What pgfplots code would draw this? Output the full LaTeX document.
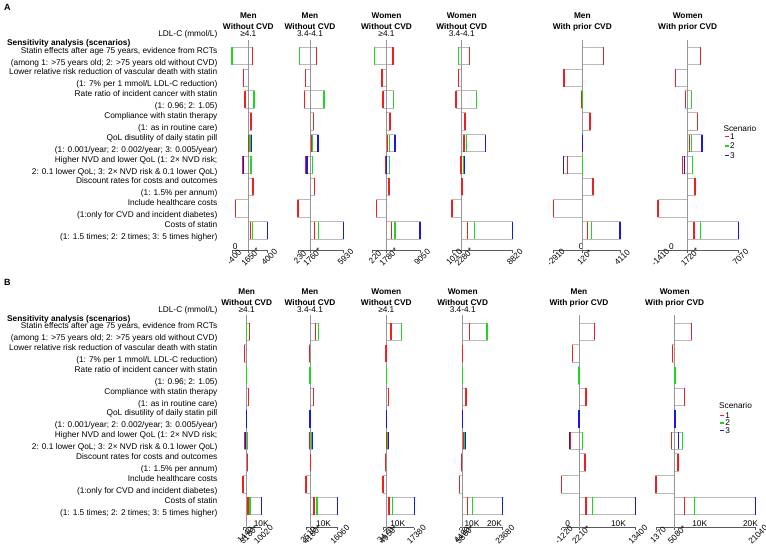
\documentclass[border=0pt]{standalone}
\usepackage{fontspec}
\setmainfont{Liberation Sans}
\usepackage{pgfplots}
\pgfplotsset{compat=1.18}
\usepackage{pgfplotstable}

\definecolor{sred}{RGB}{238,32,32}
\definecolor{sgreen}{RGB}{30,215,30}
\definecolor{sblue}{RGB}{25,25,225}
\definecolor{boxgray}{RGB}{185,185,185}
\definecolor{basegray}{RGB}{150,150,150}
\definecolor{axgray}{RGB}{90,90,90}

\newcommand{\fs}{\fontsize{8.3pt}{9pt}\selectfont}

\pgfplotsset{
  panel/.style={
    scale only axis, clip=false, y dir=reverse,
    axis y line=none, axis x line*=bottom,
    x axis line style={-, axgray, line width=0.6pt},
    xtick style={axgray, line width=0.6pt},
    tick align=outside, major tick length=2.5pt,
    xticklabel style={font=\fs, yshift=-2.5pt, rotate=45, anchor=north, inner sep=0pt},
    extra x tick style={major tick length=0pt,
      xticklabel style={rotate=-45, yshift=3pt, anchor=south}},
    legend image code/.code={\draw[##1] (0pt,0pt) -- (4pt,0pt);},
  },
  scen/.style={only marks, mark=|, mark size=8.7pt, mark options={line width=1.4pt}, forget plot},
  basel/.style={draw=basegray, line width=0.8pt, mark=none, forget plot},
}

% boxes: floating bars from lo to hi (stacked: hidden part, outlined part lo..hi);
% x is shifted by +4000 so every stack stays positive, limits are given shifted
% args: table, left, bottom, width, height, xmin+4000, xmax+4000
\newcommand{\boxaxis}[7]{%
  \begin{axis}[hide axis, scale only axis, clip=false, y dir=reverse,
    at={(#2pt,-#3pt)}, anchor=south west, width=#4pt, height=#5pt,
    xmin=#6, xmax=#7, ymin=\ya, ymax=\yb,
    xbar stacked, bar width=17.4pt]
  \addplot[draw=none, fill=none] table[x expr={\thisrow{lo}+4000}, y=r] {#1};
  \addplot[draw=boxgray, fill=none, line width=0.9pt] table[x expr={\thisrow{hi}-\thisrow{lo}}, y=r] {#1};
  \end{axis}}

% baseline and scenario lines
\newcommand{\panelplots}[2]{%
  \addplot[basel] coordinates {(#2,\ya) (#2,\yb)};
  \addplot[scen, color=sred] table[x=s1, y=r] {#1};
  \addplot[scen, color=sgreen] table[x=s2, y=r] {#1};
  \addplot[scen, color=sblue] table[x=s3, y=r] {#1};
}

\newcommand{\head}[5]{%
  \node[anchor=base, inner sep=0pt, font=\fs\bfseries] at (#1pt,{-(#2+18)*1pt}) {#3};
  \node[anchor=base, inner sep=0pt, font=\fs\bfseries] at (#1pt,{-(#2+29.7)*1pt}) {#4};
  \node[anchor=base, inner sep=0pt, font=\fs] at (#1pt,{-(#2+36.3)*1pt}) {#5};
}

\newcommand{\rowlabels}[1]{%
  \begin{scope}[yshift=-#1pt, every node/.style={font=\fs, anchor=base east, inner sep=0pt}]
  \node at (217.5pt,-36.7pt) {LDL-C (mmol/L)};
  \node[anchor=base west, font=\fs\bfseries] at (7pt,-45.7pt) {Sensitivity analysis (scenarios)};
  \node at (217.5pt,-53pt) {Statin effects after age 75 years, evidence from RCTs};
  \node at (217.5pt,-65pt) {(among 1: >75 years old; 2: >75 years old without CVD)};
  \node at (217.5pt,-74.8pt) {Lower relative risk reduction of vascular death with statin};
  \node at (217.5pt,-86.8pt) {(1: 7\% per 1 mmol/L LDL-C reduction)};
  \node at (217.5pt,-96.6pt) {Rate ratio of incident cancer with statin};
  \node at (217.5pt,-108.6pt) {(1: 0.96; 2: 1.05)};
  \node at (217.5pt,-118.4pt) {Compliance with statin therapy};
  \node at (217.5pt,-130.4pt) {(1: as in routine care)};
  \node at (217.5pt,-140.2pt) {QoL disutility of daily statin pill};
  \node at (217.5pt,-152.2pt) {(1: 0.001/year; 2: 0.002/year; 3: 0.005/year)};
  \node at (217.5pt,-162pt) {Higher NVD and lower QoL (1: 2× NVD risk;};
  \node at (217.5pt,-174pt) {2: 0.1 lower QoL; 3: 2× NVD risk \& 0.1 lower QoL)};
  \node at (217.5pt,-183.8pt) {Discount rates for costs and outcomes};
  \node at (217.5pt,-195.8pt) {(1: 1.5\% per annum)};
  \node at (217.5pt,-205.6pt) {Include healthcare costs};
  \node at (217.5pt,-217.6pt) {(1:only for CVD and incident diabetes)};
  \node at (217.5pt,-227.4pt) {Costs of statin};
  \node at (217.5pt,-239.4pt) {(1: 1.5 times; 2: 2 times; 3: 5 times higher)};
  \end{scope}}

% ---------- panel A data (ICER, lo/hi = box extent, s1-s3 = scenarios) ----------
\pgfplotstableread{
r lo hi s1 s2 s3
1 -400 2200 2200 -400 nan
2 1030 1650 1030 nan nan
3 1240 2360 1240 2360 nan
4 1650 1990 1990 nan nan
5 1650 2070 1740 1860 2070
6 950 1990 950 1990 1080
7 1650 2240 2240 nan nan
8 80 1650 80 nan nan
9 1650 4000 1950 2200 4000
}\dAone
\pgfplotstableread{
r lo hi s1 s2 s3
1 420 2600 2600 420 nan
2 1220 1760 1220 nan nan
3 1100 3510 1100 3510 nan
4 1760 2170 2170 nan nan
5 1760 2760 1970 2050 2760
6 1260 2100 1260 2100 1390
7 1760 2300 2300 nan nan
8 230 1760 230 nan nan
9 1760 5930 2300 2800 5930
}\dAtwo
\pgfplotstableread{
r lo hi s1 s2 s3
1 -730 3230 3230 -730 nan
2 850 1780 850 nan nan
3 1070 3380 1070 3380 nan
4 1780 2580 2580 nan nan
5 1780 3660 2080 2430 3660
6 1560 2430 1560 2430 1870
7 1780 2360 2360 nan nan
8 -300 1780 -300 nan nan
9 1780 9050 2860 3660 9050
}\dAthree
\pgfplotstableread{
r lo hi s1 s2 s3
1 1900 3250 3250 1900 nan
2 1840 2280 1840 nan nan
3 1550 4200 1550 4200 nan
4 2280 2700 2700 nan nan
5 2280 5310 2580 2920 5310
6 2200 2610 2200 2500 2610
7 2280 2320 2320 nan nan
8 1010 2280 1010 nan nan
9 2280 8820 3000 3900 8820
}\dAfour
\pgfplotstableread{
r lo hi s1 s2 s3
1 120 2340 2340 nan nan
2 -1820 120 -1820 nan nan
3 80 160 80 160 nan
4 120 940 940 nan nan
5 120 165 125 135 165
6 -1850 120 -1470 110 -1850
7 120 1250 1250 nan nan
8 -2910 120 -2910 nan nan
9 120 4110 650 1120 4110
}\dAfive
\pgfplotstableread{
r lo hi s1 s2 s3
1 1720 3050 3050 nan nan
2 410 1720 410 nan nan
3 1510 2100 1510 2100 nan
4 1720 2740 2740 nan nan
5 1720 3230 1930 2140 3230
6 1190 2210 1190 2210 1360
7 1720 2490 2490 nan nan
8 -1410 1720 -1410 nan nan
9 1720 7070 2390 3050 7070
}\dAsix

% ---------- panel B data ----------
\pgfplotstableread{
r lo hi s1 s2 s3
1 3050 4400 4400 3050 nan
2 2240 3180 2240 nan nan
3 3170 3200 3170 3200 nan
4 3180 3930 3930 nan nan
5 3180 3200 3185 3190 3200
6 2060 3650 2060 3650 2710
7 3180 3460 3460 nan nan
8 1440 3180 1440 nan nan
9 3180 10020 3790 4730 10020
}\dBone
\pgfplotstableread{
r lo hi s1 s2 s3
1 4180 7910 6450 7910 nan
2 3880 4180 3880 nan nan
3 4160 4200 4160 4200 nan
4 4180 5600 5600 nan nan
5 4180 4200 4185 4190 4200
6 4050 5300 4050 4900 5300
7 4180 4480 4480 nan nan
8 2510 4180 2510 nan nan
9 4180 16060 5900 7180 16060
}\dBtwo
\pgfplotstableread{
r lo hi s1 s2 s3
1 4950 11610 7040 11610 nan
2 4850 4950 4850 nan nan
3 4930 4970 4930 4970 nan
4 4950 6020 6020 nan nan
5 4950 4970 4955 4960 4970
6 4950 5950 5150 5500 5950
7 4680 4950 4680 nan nan
8 3470 4950 3470 nan nan
9 4950 17380 6150 7790 17380
}\dBthree
\pgfplotstableread{
r lo hi s1 s2 s3
1 5860 16680 8800 16680 nan
2 5760 5860 5760 nan nan
3 5840 5880 5840 5880 nan
4 5860 7330 7330 nan nan
5 5860 5880 5865 5870 5880
6 5860 7200 6300 6880 7200
7 5420 5860 5420 nan nan
8 4490 5860 4490 nan nan
9 5860 23680 7910 10140 23680
}\dBfour
\pgfplotstableread{
r lo hi s1 s2 s3
1 2210 5230 5230 nan nan
2 890 2210 890 nan nan
3 2190 2230 2190 2230 nan
4 2210 3590 3590 nan nan
5 2210 2230 2215 2220 2230
6 300 2860 430 2860 300
7 2210 3390 3390 nan nan
8 -1220 2210 -1220 nan nan
9 2210 13400 3590 4910 13400
}\dBfive
\pgfplotstableread{
r lo hi s1 s2 s3
1 5080 8350 8350 nan nan
2 4690 5080 4690 nan nan
3 5060 5100 5060 5100 nan
4 5080 6970 6970 nan nan
5 5080 5100 5085 5090 5100
6 4490 6660 4490 6660 5870
7 5080 5730 5730 nan nan
8 1370 5080 1370 nan nan
9 5080 21040 7050 9020 21040
}\dBsix

\begin{document}
\begin{tikzpicture}
\useasboundingbox (0pt,0pt) rectangle (766pt,-550pt);

\node[anchor=base west, inner sep=0pt, font=\fontsize{9pt}{10pt}\selectfont\bfseries] at (4pt,-10pt) {A};
\node[anchor=base west, inner sep=0pt, font=\fontsize{9pt}{10pt}\selectfont\bfseries] at (4pt,-285pt) {B};

\rowlabels{0}
\rowlabels{275.7}

% ================= A =================
\def\ya{0.266}\def\yb{9.9}
\head{248.3}{0}{Men}{Without CVD}{≥4.1}
\head{310}{0}{Men}{Without CVD}{3.4-4.1}
\head{386.5}{0}{Women}{Without CVD}{≥4.1}
\head{461.7}{0}{Women}{Without CVD}{3.4-4.1}
\head{582.3}{0}{Men}{With prior CVD}{}
\head{687.7}{0}{Women}{With prior CVD}{}

\boxaxis{\dAone}{231.9}{250}{35.3}{210}{3600}{8000}
\begin{axis}[panel, at={(231.9pt,-250pt)}, anchor=south west, width=35.3pt, height=210pt,
  xmin=-400, xmax=4000, ymin=\ya, ymax=\yb,
  xtick={-400,1650,4000}, xticklabels={-400,1650*,4000},
  extra x ticks={0}, extra x tick labels={0}]
\panelplots{\dAone}{1650}
\end{axis}

\boxaxis{\dAtwo}{297.8}{250}{45.5}{210}{4230}{9930}
\begin{axis}[panel, at={(297.8pt,-250pt)}, anchor=south west, width=45.5pt, height=210pt,
  xmin=230, xmax=5930, ymin=\ya, ymax=\yb,
  xtick={230,1760,5930}, xticklabels={230,1760*,5930}]
\panelplots{\dAtwo}{1760}
\end{axis}

% the left end of this axis sits further out than a linear 220 would
\boxaxis{\dAthree}{372.7}{250}{47.3}{210}{2823}{13050}
\begin{axis}[panel, at={(372.7pt,-250pt)}, anchor=south west, width=47.3pt, height=210pt,
  xmin=-1177, xmax=9050, ymin=\ya, ymax=\yb,
  xtick={-1177,1780,9050}, xticklabels={220,1780*,9050}]
\panelplots{\dAthree}{1780}
\end{axis}

\boxaxis{\dAfour}{451.8}{250}{60.9}{210}{5010}{12820}
\begin{axis}[panel, at={(451.8pt,-250pt)}, anchor=south west, width=60.9pt, height=210pt,
  xmin=1010, xmax=8820, ymin=\ya, ymax=\yb,
  xtick={1010,2280,8820}, xticklabels={1010,2280*,8820}]
\panelplots{\dAfour}{2280}
\end{axis}

\boxaxis{\dAfive}{553.7}{250}{66.3}{210}{1090}{8110}
\begin{axis}[panel, at={(553.7pt,-250pt)}, anchor=south west, width=66.3pt, height=210pt,
  xmin=-2910, xmax=4110, ymin=\ya, ymax=\yb,
  xtick={-2910,120,4110}, xticklabels={-2910,120*,4110},
  extra x ticks={0}, extra x tick labels={0}]
\panelplots{\dAfive}{120}
\end{axis}

\boxaxis{\dAsix}{658.1}{250}{80.2}{210}{2590}{11070}
\begin{axis}[panel, at={(658.1pt,-250pt)}, anchor=south west, width=80.2pt, height=210pt,
  xmin=-1410, xmax=7070, ymin=\ya, ymax=\yb,
  xtick={-1410,1720,7070}, xticklabels={-1410,1720*,7070},
  extra x ticks={0}, extra x tick labels={0},
  legend cell align=left,
  legend style={name=legA, at={(0.822,0.556)}, anchor=north west, draw=none, fill=none,
    inner sep=0pt, font=\fs, row sep=2.8pt,
    nodes={inner sep=0.5pt, text height=5.5pt, text depth=0pt}}]
\panelplots{\dAsix}{1720}
\addlegendimage{sred, line width=1.3pt}\addlegendentry{1}
\addlegendimage{sgreen, line width=1.3pt}\addlegendentry{2}
\addlegendimage{sblue, line width=1.3pt}\addlegendentry{3}
\end{axis}
\node[anchor=base west, inner sep=0pt, font=\fs] at ([xshift=-0.7pt, yshift=2pt]legA.north west) {Scenario};

% ================= B =================
\def\ya{0.234}\def\yb{9.98}
\head{246.7}{276}{Men}{Without CVD}{≥4.1}
\head{310}{276}{Men}{Without CVD}{3.4-4.1}
\head{386.3}{276}{Women}{Without CVD}{≥4.1}
\head{462.7}{276}{Women}{Without CVD}{3.4-4.1}
\head{579}{276}{Men}{With prior CVD}{}
\head{674.7}{276}{Women}{With prior CVD}{}

\boxaxis{\dBone}{243}{527.5}{18.3}{212.5}{5440}{14020}
\begin{axis}[panel, at={(243pt,-527.5pt)}, anchor=south west, width=18.3pt, height=212.5pt,
  xmin=1440, xmax=10020, ymin=\ya, ymax=\yb,
  xtick={1440,3180,10020}, xticklabels={1440,3180*,10020},
  extra x ticks={10000}, extra x tick labels={10K}]
\panelplots{\dBone}{3180}
\end{axis}

\boxaxis{\dBtwo}{306.1}{527.5}{31.6}{212.5}{6510}{20060}
\begin{axis}[panel, at={(306.1pt,-527.5pt)}, anchor=south west, width=31.6pt, height=212.5pt,
  xmin=2510, xmax=16060, ymin=\ya, ymax=\yb,
  xtick={2510,4180,16060}, xticklabels={2510,4180*,16060},
  extra x ticks={10000}, extra x tick labels={10K}]
\panelplots{\dBtwo}{4180}
\end{axis}

\boxaxis{\dBthree}{383}{527.5}{31.3}{212.5}{7470}{21380}
\begin{axis}[panel, at={(383pt,-527.5pt)}, anchor=south west, width=31.3pt, height=212.5pt,
  xmin=3470, xmax=17380, ymin=\ya, ymax=\yb,
  xtick={3470,4950,17380}, xticklabels={3470,4950*,17380},
  extra x ticks={10000}, extra x tick labels={10K}]
\panelplots{\dBthree}{4950}
\end{axis}

\boxaxis{\dBfour}{459.6}{527.5}{43.1}{212.5}{8490}{27680}
\begin{axis}[panel, at={(459.6pt,-527.5pt)}, anchor=south west, width=43.1pt, height=212.5pt,
  xmin=4490, xmax=23680, ymin=\ya, ymax=\yb,
  xtick={4490,5860,23680}, xticklabels={4490,5860*,23680},
  extra x ticks={10000,20000}, extra x tick labels={10K,20K}]
\panelplots{\dBfour}{5860}
\end{axis}

\boxaxis{\dBfive}{561.6}{527.5}{74.1}{212.5}{2780}{17400}
\begin{axis}[panel, at={(561.6pt,-527.5pt)}, anchor=south west, width=74.1pt, height=212.5pt,
  xmin=-1220, xmax=13400, ymin=\ya, ymax=\yb,
  xtick={-1220,2210,13400}, xticklabels={-1220,2210*,13400},
  extra x ticks={0,10000}, extra x tick labels={0,10K}]
\panelplots{\dBfive}{2210}
\end{axis}

\boxaxis{\dBsix}{655.9}{527.5}{99.8}{212.5}{5370}{25040}
\begin{axis}[panel, at={(655.9pt,-527.5pt)}, anchor=south west, width=99.8pt, height=212.5pt,
  xmin=1370, xmax=21040, ymin=\ya, ymax=\yb,
  xtick={1370,5080,21040}, xticklabels={1370,5080*,21040},
  extra x ticks={10000,20000}, extra x tick labels={10K,20K},
  legend cell align=left,
  legend style={name=legB, at={(0.637,0.5435)}, anchor=north west, draw=none, fill=none,
    inner sep=0pt, font=\fs, row sep=1pt,
    nodes={inner sep=0.5pt, text height=5.5pt, text depth=0pt}}]
\panelplots{\dBsix}{5080}
\addlegendimage{sred, line width=1.3pt}\addlegendentry{1}
\addlegendimage{sgreen, line width=1.3pt}\addlegendentry{2}
\addlegendimage{sblue, line width=1.3pt}\addlegendentry{3}
\end{axis}
\node[anchor=base west, inner sep=0pt, font=\fs] at ([xshift=-0.5pt, yshift=4pt]legB.north west) {Scenario};

\end{tikzpicture}
\end{document}
